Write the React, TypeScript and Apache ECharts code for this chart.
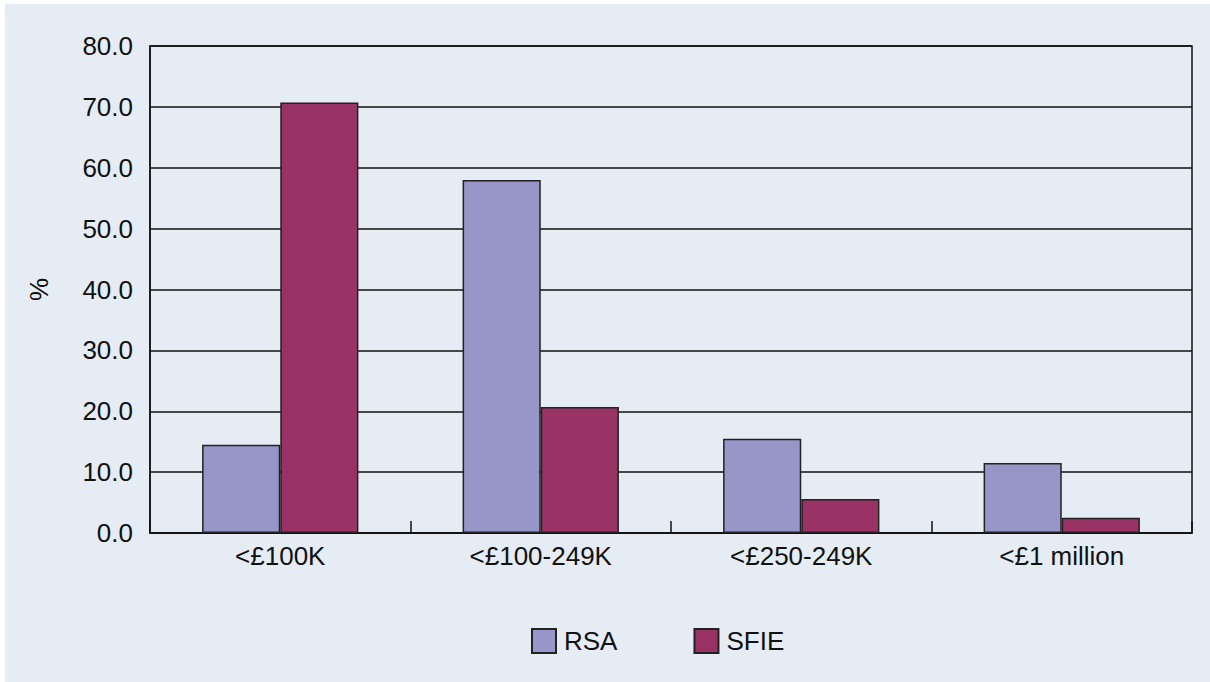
import React, { useEffect, useRef } from "react";
import * as echarts from "echarts";

const categories = ["<£100K", "<£100-249K", "<£250-249K", "<£1 million"];
const rsaValues = [14.5, 58.0, 15.5, 11.5];
const sfieValues = [70.7, 20.7, 5.6, 2.5];
const seriesNames = ["RSA", "SFIE"];
const yTicks = { min: 0, max: 80, interval: 10 };

const FONT = "'Liberation Sans', Arial, sans-serif";
const FS = 26;

export default function App() {
  const ref = useRef<HTMLDivElement>(null);
  useEffect(() => {
    if (!ref.current) return;
    const chart = echarts.init(ref.current, null, { renderer: "svg" });
    chart.setOption({
      animation: false,
      backgroundColor: "#ffffff",
      textStyle: { fontFamily: FONT },
      graphic: {
        elements: [
          {
            type: "rect",
            z: -100,
            silent: true,
            shape: { x: 5, y: 4, width: 1205, height: 678 },
            style: { fill: "#e5ecf4" },
          },
        ],
      },
      grid: {
        left: 150,
        right: 18,
        top: 46,
        bottom: 149,
        show: true,
        borderColor: "#111",
        borderWidth: 1.5,
        backgroundColor: "transparent",
      },
      legend: {
        top: 628,
        left: 531,
        padding: 0,
        itemWidth: 24,
        itemHeight: 24,
        itemGap: 76,
        icon: "rect",
        textStyle: { fontSize: FS, color: "#111", fontFamily: FONT, padding: [0, 0, 0, 3] },
        data: seriesNames,
      },
      xAxis: {
        type: "category",
        data: categories,
        axisLine: { show: true, lineStyle: { color: "#111", width: 1.5 } },
        axisTick: { show: true, inside: true, length: 12, lineStyle: { color: "#111", width: 1.5 } },
        axisLabel: { fontSize: FS, color: "#111", margin: 10, fontFamily: FONT },
        splitLine: { show: false },
      },
      yAxis: {
        type: "value",
        min: yTicks.min,
        max: yTicks.max,
        interval: yTicks.interval,
        name: "%",
        nameLocation: "middle",
        nameRotate: 90,
        nameGap: 98,
        nameTextStyle: { fontSize: FS, color: "#111", fontFamily: FONT },
        axisLine: { show: true, lineStyle: { color: "#111", width: 1.5 } },
        axisTick: { show: false },
        axisLabel: {
          fontSize: FS,
          color: "#111",
          margin: 17,
          fontFamily: FONT,
          formatter: (v: number) => v.toFixed(1),
        },
        splitLine: { show: true, lineStyle: { color: "#111", width: 1.5 } },
      },
      series: [
        {
          name: seriesNames[0],
          type: "bar",
          data: rsaValues,
          barGap: "0%",
          barCategoryGap: "40%",
          itemStyle: { color: "#9696c8", borderColor: "#222", borderWidth: 1.5 },
        },
        {
          name: seriesNames[1],
          type: "bar",
          data: sfieValues,
          barGap: "0%",
          barCategoryGap: "40%",
          itemStyle: { color: "#993366", borderColor: "#222", borderWidth: 1.5 },
        },
      ],
    });
    return () => chart.dispose();
  }, []);
  return (
    <div
      ref={ref}
      style={{ position: "fixed", left: 0, top: 0, width: 1210, height: 682 }}
    />
  );
}
